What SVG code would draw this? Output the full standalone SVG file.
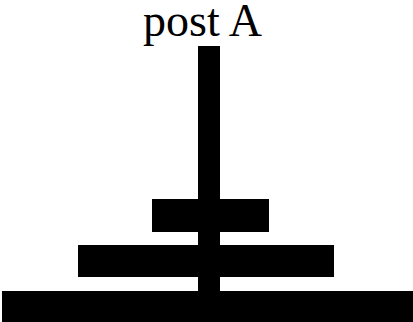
<svg xmlns="http://www.w3.org/2000/svg" width="413" height="322" viewBox="0 0 413 322">
<style>
.k{fill:#000}
.t{font-family:"Liberation Serif","Times New Roman",serif;font-size:46px;fill:#000}
</style>
<rect width="413" height="322" fill="#fff"/>
<g id="label"><text class="t" x="143" y="36">post A</text></g>
<g id="post"><rect class="k" x="198" y="46" width="22" height="276"/></g>
<g id="disk1"><rect class="k" x="152" y="199" width="117" height="33"/></g>
<g id="disk2"><rect class="k" x="78" y="245" width="256" height="32"/></g>
<g id="disk3"><rect class="k" x="2" y="291" width="411" height="31"/></g>
</svg>
